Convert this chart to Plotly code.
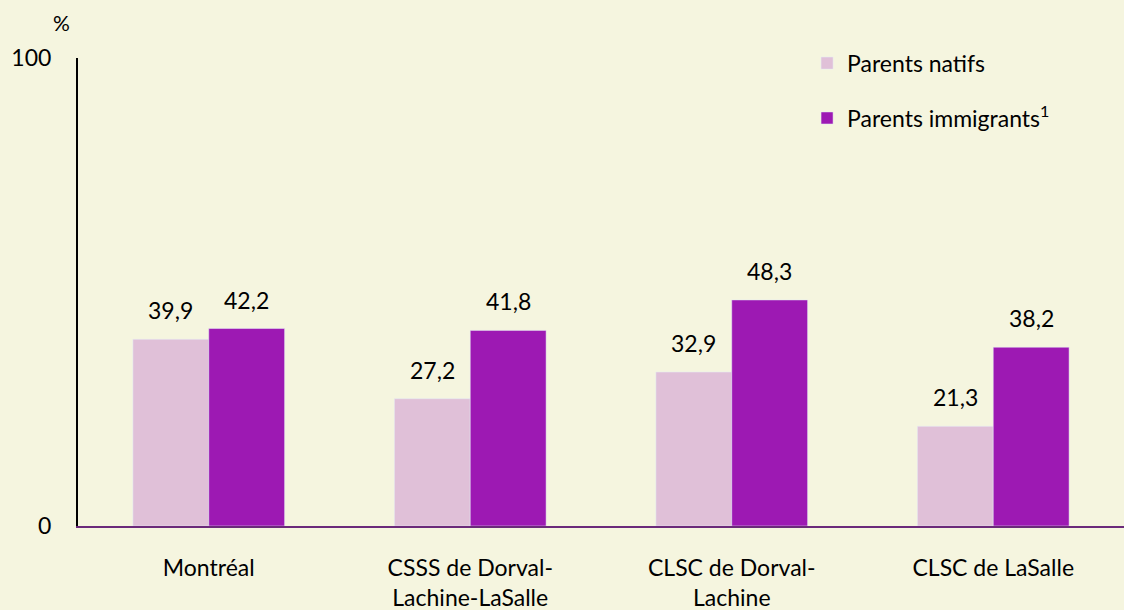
import plotly.graph_objects as go

categories = ["Montréal", "CSSS de Dorval-<br>Lachine-LaSalle", "CLSC de Dorval-<br>Lachine", "CLSC de LaSalle"]
natifs = [39.9, 27.2, 32.9, 21.3]
immigrants = [42.2, 41.8, 48.3, 38.2]
series_names = ["Parents natifs", "Parents immigrants<sup>1</sup>"]
y_ticks = [0, 100]

BG = "#F5F5DF"
C_LIGHT = "#E0C0D8"
C_DARK = "#9D19B3"
FONT = "Lato"

fig = go.Figure()
fig.add_trace(go.Bar(x=categories, y=natifs, name=series_names[0], marker_color=C_LIGHT,
                     legendgroup="a"))
fig.add_trace(go.Bar(x=categories, y=immigrants, name=series_names[1], marker_color=C_DARK,
                     legendgroup="b"))

def fmt(v):
    return f"{v:.1f}".replace(".", ",")

for vals, shift in ((natifs, -38), (immigrants, 38)):
    for c, v in zip(categories, vals):
        fig.add_annotation(x=c, y=v, xref="x", yref="y", text=fmt(v), showarrow=False,
                           xshift=shift, yshift=13, yanchor="bottom",
                           font=dict(family=FONT, size=23, color="#000"))

fig.add_annotation(x=-0.006, y=1.045, xref="paper", yref="paper", text="%", showarrow=False,
                   xanchor="right", yanchor="bottom", font=dict(family=FONT, size=21, color="#000"))

fig.update_layout(
    width=1124, height=610,
    paper_bgcolor=BG, plot_bgcolor=BG,
    margin=dict(l=78, r=0, t=58, b=84),
    barmode="group", bargap=0.42, bargroupgap=0,
    font=dict(family=FONT, size=23, color="#000"),
    legend=dict(x=0.697, y=1.035, xanchor="left", yanchor="top", bgcolor="rgba(0,0,0,0)",
                traceorder="grouped", tracegroupgap=22, font=dict(size=23)),
    xaxis=dict(showgrid=False, showline=True, linecolor="#6B2A7A", linewidth=2,
               ticks="", ticklabelstandoff=20, tickfont=dict(size=23), automargin=False),
    yaxis=dict(range=[0, 100], tickvals=y_ticks, showgrid=False, zeroline=False,
               showline=True, linecolor="#000", linewidth=2, ticks="",
               ticklabelstandoff=20, tickfont=dict(size=23), automargin=False),
)

fig.write_html("out.html", config={"displayModeBar": False},
               post_script="document.body.style.margin='0';document.body.style.overflow='hidden';")
